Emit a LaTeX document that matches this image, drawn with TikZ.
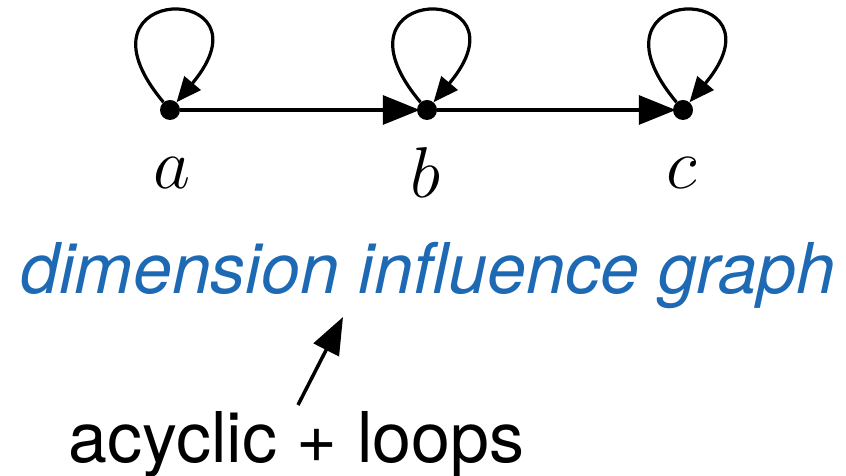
\documentclass[tikz,border=0pt]{standalone}
\usepackage{fix-cm}
\usepackage{fontspec}
\setsansfont{TeX Gyre Heros}
\usetikzlibrary{arrows.meta}
\definecolor{dimblue}{RGB}{30,105,180}
\begin{document}
\begin{tikzpicture}[x=1pt,y=1pt,
  vert/.style={circle,fill=black,inner sep=0pt,minimum size=20pt},
  lbl/.style={inner sep=0pt,font=\fontsize{72}{80}\selectfont},
  edge/.style={line width=3.2pt,-{Triangle[length=37pt,width=29pt]},shorten >=-3pt},
  selfloop/.style={line width=3.2pt,-{Triangle[length=25pt,width=21pt]}},
  pointer/.style={line width=3.5pt,-{Triangle[length=37pt,width=28pt]}}]
\useasboundingbox (0,0) rectangle (846,476);
\node[vert] (a) at (170,366) {};
\node[vert] (b) at (427,366) {};
\node[vert] (c) at (683,366) {};
\node[lbl] (la) at (172,303) {$a$};
\node[lbl] (lb) at (425,303) {$b$};
\node[lbl] (lc) at (682,303) {$c$};
\draw[edge] (a) -- (b);
\draw[edge] (b) -- (c);
\draw[selfloop] (a) to[out=130,in=50,min distance=158pt] (a);
\draw[selfloop] (b) to[out=130,in=50,min distance=158pt] (b);
\draw[selfloop] (c) to[out=130,in=50,min distance=158pt] (c);
\node[anchor=base,inner sep=0pt,text=dimblue,font=\sffamily\itshape\fontsize{70}{80}\selectfont] (dig) at (428,182) {dimension influence graph};
\node[anchor=base,inner sep=0pt,font=\sffamily\fontsize{70}{80}\selectfont] (acyc) at (296.5,13) {acyclic + loops};
\coordinate (tail) at (298,71);
\coordinate (tip) at (343,159);
\draw[pointer] (tail) -- (tip);
\end{tikzpicture}
\end{document}
